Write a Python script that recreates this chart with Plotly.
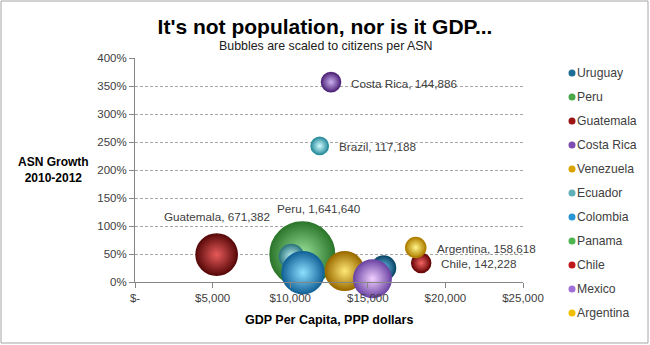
import math
import plotly.graph_objects as go

# ---------------- data ----------------
countries = ["Uruguay", "Peru", "Guatemala", "Costa Rica", "Venezuela", "Ecuador",
             "Colombia", "Panama", "Chile", "Mexico", "Argentina", "Brazil"]
gdp_per_capita = [16020, 10780, 5260, 12630, 13510, 10080,
                  10820, 15400, 18440, 15300, 18090, 11900]
asn_growth = [0.25, 0.495, 0.49, 3.57, 0.196, 0.455,
              0.166, 0.12, 0.34, 0.057, 0.616, 2.43]
citizens_per_asn = [224000, 1641640, 671382, 144886, 584000, 230000,
                    692000, 150000, 142228, 554000, 158618, 117188]
labelled = ["Peru", "Guatemala", "Costa Rica", "Chile", "Argentina", "Brazil"]
legend_names = ["Uruguay", "Peru", "Guatemala", "Costa Rica", "Venezuela", "Ecuador",
                "Colombia", "Panama", "Chile", "Mexico", "Argentina"]
x_tickvals = [0, 5000, 10000, 15000, 20000, 25000]
x_ticktext = ["$-", "$5,000", "$10,000", "$15,000", "$20,000", "$25,000"]
y_tickvals = [0, 0.5, 1.0, 1.5, 2.0, 2.5, 3.0, 3.5, 4.0]

# ---------------- styles ----------------
# (light centre, main/legend, dark edge)
colors = {
    "Uruguay":    ("#6cc0e8", "#1f6e98", "#0e4a6c"),
    "Peru":       ("#9ce29c", "#4aa84a", "#2c772c"),
    "Guatemala":  ("#e85a5a", "#9c1414", "#5a0a0a"),
    "Costa Rica": ("#cdb0f0", "#7c4cb0", "#52297c"),
    "Venezuela":  ("#ffe877", "#d9a300", "#9c6c00"),
    "Ecuador":    ("#bff4f6", "#5fb0b8", "#327a82"),
    "Colombia":   ("#8ee0ff", "#2896d4", "#14649a"),
    "Panama":     ("#9ce29c", "#4fb64f", "#2c7a2c"),
    "Chile":      ("#f46464", "#c01818", "#6c0808"),
    "Mexico":     ("#f2d0ff", "#a070d8", "#6e48a6"),
    "Argentina":  ("#fff68a", "#f0bf00", "#b08000"),
    "Brazil":     ("#d4fcff", "#62c8d8", "#2e90a0"),
}
FONT = "Liberation Sans, Arial, sans-serif"
TXT = "#404040"
W, H = 650, 345
ML, MR, MT, MB = 135, 127, 58, 63
PW, PH = W - ML - MR, H - MT - MB
SIZEREF = 790.0
LINEW = 1.5


def px(xp):
    return (xp - ML) / PW


def py(yp):
    return (H - MB - yp) / PH


fig = go.Figure()
for i, c in enumerate(countries):
    light, main, dark = colors[c]
    fig.add_trace(go.Scatter(
        x=[gdp_per_capita[i]], y=[asn_growth[i]], mode="markers", name=c,
        showlegend=False, hoverinfo="name",
        marker=dict(size=[citizens_per_asn[i]], sizemode="area", sizeref=SIZEREF,
                    color=dark, opacity=1,
                    gradient=dict(type="radial", color=light),
                    line=dict(width=LINEW, color=dark)),
        cliponaxis=False,
    ))

annotations = []
label_shift = {"Peru": (17, 46, "center"), "Guatemala": (0, 38, "center")}
for i, c in enumerate(countries):
    if c not in labelled:
        continue
    r = math.sqrt(citizens_per_asn[i] / (2 * SIZEREF)) + LINEW / 2
    if c in label_shift:
        xs, ys, anc = label_shift[c]
    else:
        xs, ys, anc = r + 8, -1, "left"
    annotations.append(dict(
        x=gdp_per_capita[i], y=asn_growth[i], xref="x", yref="y",
        text=f"{c}, {citizens_per_asn[i]:,}", showarrow=False,
        xanchor=anc, yanchor="middle", xshift=xs, yshift=ys,
        font=dict(family=FONT, size=11.7, color=TXT)))

# titles
annotations.append(dict(x=px(325.5), y=py(46.5), xref="paper", yref="paper",
                        text="Bubbles are scaled to citizens per ASN", showarrow=False,
                        xanchor="center", yanchor="middle",
                        font=dict(family=FONT, size=12.4, color="#202020")))
annotations.append(dict(x=px(53), y=py(170), xref="paper", yref="paper",
                        text="<b>ASN Growth<br>2010-2012</b>", showarrow=False,
                        xanchor="center", yanchor="middle", align="center",
                        font=dict(family=FONT, size=12, color="#000000")))
annotations.append(dict(x=px(329), y=py(320), xref="paper", yref="paper",
                        text="<b>GDP Per Capita, PPP dollars</b>", showarrow=False,
                        xanchor="center", yanchor="middle",
                        font=dict(family=FONT, size=12.5, color="#000000")))

shapes = []
# legend (drawn manually)
for k, c in enumerate(legend_names):
    yp = 73 + 24 * k
    light, main, dark = colors[c]
    shapes.append(dict(type="circle", xref="paper", yref="paper",
                       xsizemode="pixel", ysizemode="pixel",
                       xanchor=px(572), yanchor=py(yp),
                       x0=-3.5, x1=3.5, y0=-3.5, y1=3.5,
                       fillcolor=main, line=dict(width=0)))
    annotations.append(dict(x=px(575), y=py(yp), xref="paper", yref="paper",
                            text=c, showarrow=False, xanchor="left", yanchor="middle",
                            font=dict(family=FONT, size=12.2, color=TXT)))

# outer border
shapes.append(dict(type="rect", xref="paper", yref="paper",
                   x0=px(1), x1=px(648), y0=py(343), y1=py(1),
                   line=dict(color="#a6a6a6", width=1), fillcolor="rgba(0,0,0,0)",
                   layer="below"))

fig.update_layout(
    width=W, height=H, autosize=False,
    margin=dict(l=ML, r=MR, t=MT, b=MB, pad=0),
    paper_bgcolor="white", plot_bgcolor="white",
    showlegend=False,
    title=dict(text="<b>It's not population, nor is it GDP...</b>",
               x=0.5, xref="container", xanchor="center",
               y=1 - 27 / H, yref="container", yanchor="middle",
               font=dict(family=FONT, size=21, color="#000000")),
    xaxis=dict(range=[0, 25000], tickvals=x_tickvals, ticktext=x_ticktext,
               showgrid=False, zeroline=False, showline=True, linecolor="#868686",
               linewidth=1, ticks="outside", ticklen=5, tickcolor="#868686",
               tickfont=dict(family=FONT, size=11.5, color=TXT), fixedrange=True),
    yaxis=dict(range=[0, 4], tickvals=y_tickvals, tickformat=".0%",
               showgrid=True, gridcolor="#a6a6a6", griddash="3px,2px", gridwidth=1,
               zeroline=False, showline=True, linecolor="#868686", linewidth=1,
               ticks="outside", ticklen=5, tickcolor="#868686",
               tickfont=dict(family=FONT, size=11.5, color=TXT), fixedrange=True),
    annotations=annotations, shapes=shapes,
)

fig.write_html("out.html")
